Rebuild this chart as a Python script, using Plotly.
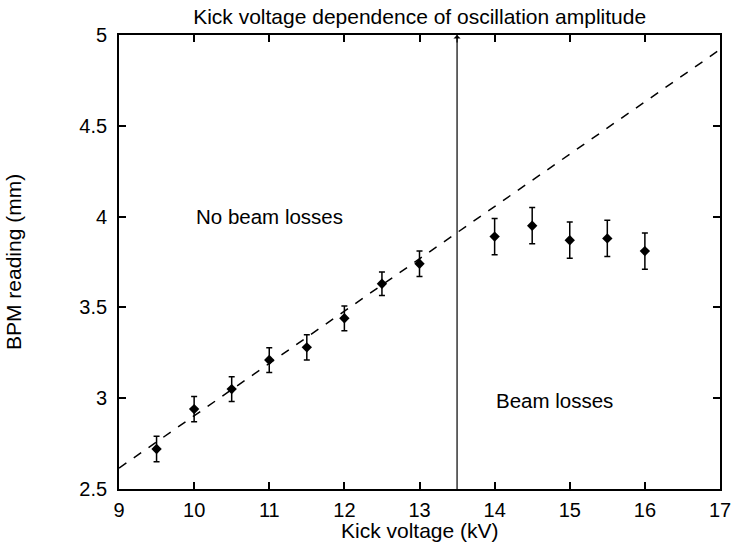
import plotly.graph_objects as go

# Data
kick_kv = [9.5, 10, 10.5, 11, 11.5, 12, 12.5, 13, 14, 14.5, 15, 15.5, 16]
bpm_mm = [2.72, 2.94, 3.05, 3.21, 3.28, 3.44, 3.63, 3.74, 3.89, 3.95, 3.87, 3.88, 3.81]
bpm_err = [0.07, 0.07, 0.068, 0.068, 0.07, 0.068, 0.065, 0.07, 0.10, 0.10, 0.10, 0.10, 0.10]

fit_x = [9, 17]
fit_y = [2.615, 4.92]

threshold_kv = 13.5
x_ticks = [9, 10, 11, 12, 13, 14, 15, 16, 17]
y_ticks = [2.5, 3, 3.5, 4, 4.5, 5]

FONT = "Liberation Sans, Arial, Helvetica, sans-serif"

fig = go.Figure()

fig.add_trace(go.Scatter(
    x=fit_x, y=fit_y, mode="lines",
    line=dict(color="black", width=1.5, dash="dash"),
    showlegend=False, hoverinfo="skip",
))

fig.add_trace(go.Scatter(
    x=[threshold_kv, threshold_kv], y=[y_ticks[0], y_ticks[-1]], mode="lines",
    line=dict(color="black", width=1.2),
    showlegend=False, hoverinfo="skip",
))

fig.add_trace(go.Scatter(
    x=kick_kv, y=bpm_mm, mode="markers",
    marker=dict(symbol="diamond", size=8, color="black"),
    error_y=dict(type="data", array=bpm_err, color="black", thickness=1.5, width=3),
    showlegend=False,
))

fig.add_annotation(
    x=threshold_kv, y=y_ticks[-1], ax=threshold_kv, ay=y_ticks[-1] - 0.05,
    xref="x", yref="y", axref="x", ayref="y",
    text="", showarrow=True, arrowhead=1, arrowsize=1, arrowwidth=1.2,
    arrowcolor="black", standoff=0,
)

fig.add_annotation(
    x=11.0, y=4.0, xref="x", yref="y", text="No beam losses",
    showarrow=False, font=dict(family=FONT, size=20.5, color="black"),
)
fig.add_annotation(
    x=14.8, y=2.99, xref="x", yref="y", text="Beam losses",
    showarrow=False, font=dict(family=FONT, size=20.5, color="black"),
)

# Axis titles
fig.add_annotation(
    x=0.5, y=0, xref="paper", yref="paper", xanchor="center", yanchor="middle",
    yshift=-41, text="Kick voltage (kV)", showarrow=False,
    font=dict(family=FONT, size=21, color="black"),
)
fig.add_annotation(
    x=0, y=0.5, xref="paper", yref="paper", xanchor="center", yanchor="middle",
    xshift=-106, textangle=-90, text="BPM reading (mm)", showarrow=False,
    font=dict(family=FONT, size=21, color="black"),
)

axis_common = dict(
    showgrid=False, zeroline=False, automargin=False,
    showline=True, linecolor="black", linewidth=1.8,
    mirror="ticks", ticks="inside", ticklen=7, tickwidth=1.5, tickcolor="black",
    tickfont=dict(family=FONT, size=20, color="black"),
)

fig.update_layout(
    width=733, height=546,
    margin=dict(l=119, r=13, t=35, b=57, autoexpand=False),
    paper_bgcolor="white", plot_bgcolor="white",
    font=dict(family=FONT, color="black"),
    title=dict(
        text="Kick voltage dependence of oscillation amplitude",
        x=0.5725, xanchor="center", y=0.97, yanchor="middle",
        font=dict(family=FONT, size=21, color="black"),
    ),
    xaxis=dict(
        range=[9, 17], tickvals=x_ticks, ticktext=[str(v) for v in x_ticks],
        ticklabelstandoff=2,
        **axis_common,
    ),
    yaxis=dict(
        range=[2.5, 5], tickvals=y_ticks, ticktext=[f"{v:g}" for v in y_ticks],
        ticklabelstandoff=6,
        **axis_common,
    ),
)

fig.write_html(
    "out.html",
    config={"displayModeBar": False},
    post_script="document.body.style.margin='0px';document.body.style.overflow='hidden';",
)
